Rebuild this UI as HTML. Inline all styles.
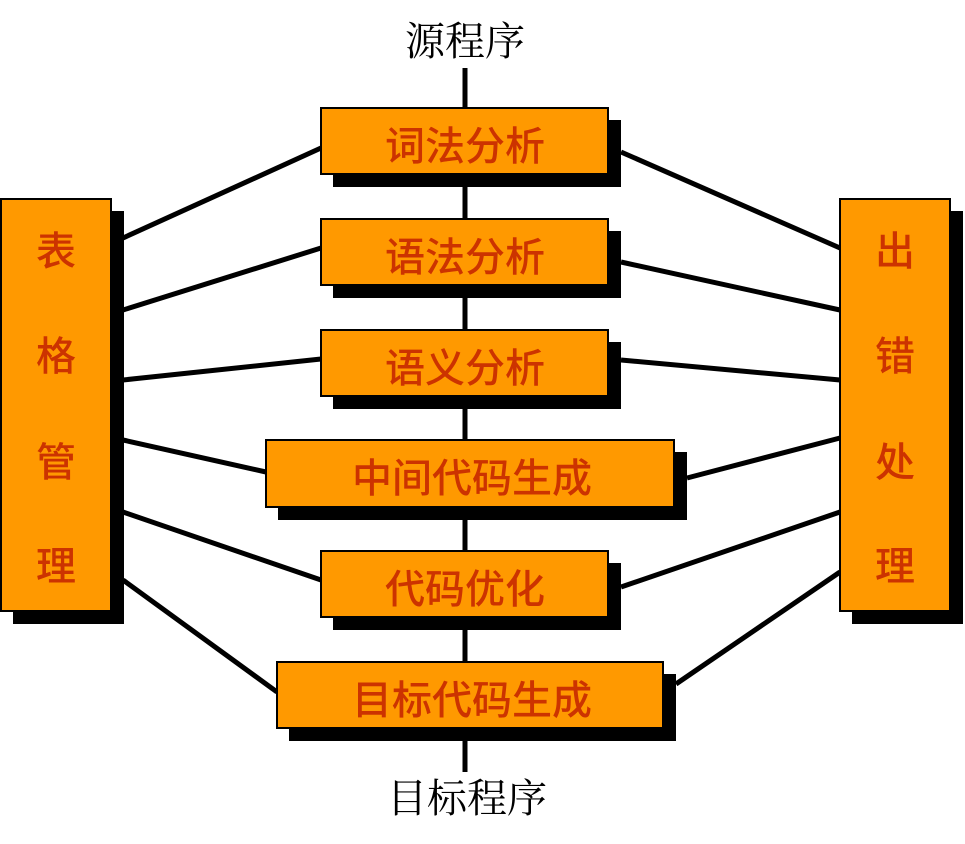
<!DOCTYPE html>
<html><head><meta charset="utf-8"><style>
html,body{margin:0;padding:0;background:#fff;}
svg{display:block;}
.t{font-family:"Liberation Sans","Noto Sans CJK SC",sans-serif;font-weight:500;font-size:40px;fill:#CC3300;text-anchor:middle;}
.h{font-family:"Liberation Serif","Noto Serif CJK SC",serif;font-size:40px;fill:#000;text-anchor:middle;}
</style></head><body>
<svg width="965" height="844" viewBox="0 0 965 844">
<line x1="465" y1="68" x2="465" y2="772" stroke="#000" stroke-width="5"/>
<g stroke="#000" stroke-width="5">
<line x1="123" y1="238" x2="321" y2="148"/>
<line x1="123" y1="310" x2="321" y2="248"/>
<line x1="123" y1="380" x2="321" y2="359"/>
<line x1="123" y1="440" x2="266" y2="472"/>
<line x1="123" y1="512" x2="321" y2="580"/>
<line x1="123" y1="580" x2="277" y2="692"/>
<line x1="621" y1="152" x2="840" y2="248"/>
<line x1="621" y1="262" x2="840" y2="310"/>
<line x1="621" y1="360" x2="840" y2="380"/>
<line x1="687" y1="478" x2="840" y2="438"/>
<line x1="621" y1="587" x2="840" y2="512"/>
<line x1="676" y1="684" x2="840" y2="572"/>
</g>
<g>
<rect x="333" y="120" width="288" height="67" fill="#000"/>
<rect x="321" y="108" width="287" height="66" fill="#FF9900" stroke="#000" stroke-width="2"/>
<text class="t" x="465" y="160">词法分析</text>
<rect x="333" y="231" width="288" height="67" fill="#000"/>
<rect x="321" y="219" width="287" height="66" fill="#FF9900" stroke="#000" stroke-width="2"/>
<text class="t" x="465" y="271">语法分析</text>
<rect x="333" y="342" width="288" height="67" fill="#000"/>
<rect x="321" y="330" width="287" height="66" fill="#FF9900" stroke="#000" stroke-width="2"/>
<text class="t" x="465" y="382">语义分析</text>
<rect x="278" y="452" width="409" height="68" fill="#000"/>
<rect x="266" y="440" width="408" height="67" fill="#FF9900" stroke="#000" stroke-width="2"/>
<text class="t" x="472" y="492">中间代码生成</text>
<rect x="333" y="563" width="288" height="67" fill="#000"/>
<rect x="321" y="551" width="287" height="66" fill="#FF9900" stroke="#000" stroke-width="2"/>
<text class="t" x="465" y="603">代码优化</text>
<rect x="289" y="674" width="387" height="67" fill="#000"/>
<rect x="277" y="662" width="386" height="66" fill="#FF9900" stroke="#000" stroke-width="2"/>
<text class="t" x="472" y="714">目标代码生成</text>
<rect x="13" y="211" width="111" height="413" fill="#000"/>
<rect x="1" y="199" width="110" height="412" fill="#FF9900" stroke="#000" stroke-width="2"/>
<text class="t" x="56" y="265">表</text>
<text class="t" x="56" y="370">格</text>
<text class="t" x="56" y="476">管</text>
<text class="t" x="56" y="580">理</text>
<rect x="852" y="211" width="111" height="413" fill="#000"/>
<rect x="840" y="199" width="110" height="412" fill="#FF9900" stroke="#000" stroke-width="2"/>
<text class="t" x="895" y="265">出</text>
<text class="t" x="895" y="370">错</text>
<text class="t" x="895" y="476">处</text>
<text class="t" x="895" y="580">理</text>
</g>
<text class="h" x="465" y="55">源程序</text>
<text class="h" x="467" y="812">目标程序</text>
</svg>
</body></html>
